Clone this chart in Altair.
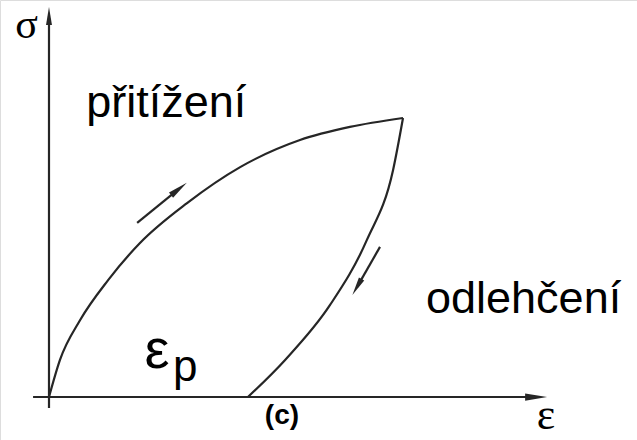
import altair as alt
import pandas as pd

# Loading branch (přitížení): strain / stress, normalised to the turning point
load_eps = [0.0, 0.031, 0.088, 0.167, 0.257, 0.390, 0.540, 0.709, 0.850, 1.0]
load_sig = [0.0, 0.133, 0.276, 0.419, 0.552, 0.695, 0.824, 0.921, 0.968, 1.0]

# Unloading branch (odlehčení), ending at the permanent strain ε_p
unload_eps = [1.0, 0.972, 0.898, 0.794, 0.667, 0.562]
unload_sig = [1.0, 0.814, 0.563, 0.330, 0.133, 0.0]

# Axis lines and direction arrows along the branches (start -> end)
seg_e1 = [-0.045, 0.0, 0.249, 0.935]
seg_s1 = [0.0, -0.039, 0.624, 0.538]
seg_e2 = [1.35, 0.0, 0.367, 0.870]
seg_s2 = [0.0, 1.35, 0.746, 0.394]

# Arrowheads: position, heading (deg, clockwise from up), size
head_e = [1.376, 0.0, 0.367, 0.870]
head_s = [0.0, 1.366, 0.746, 0.394]
head_ang = [90, 0, 52, 210]
head_size = [484, 324, 400, 340]

X_DOM = [-0.1384, 1.661]
Y_DOM = [-0.1541, 1.423]
INK = "#262626"

curve = pd.DataFrame({
    "eps": load_eps + unload_eps,
    "sig": load_sig + unload_sig,
    "branch": ["load"] * len(load_eps) + ["unload"] * len(unload_eps),
})
segs = pd.DataFrame({"e1": seg_e1, "s1": seg_s1, "e2": seg_e2, "s2": seg_s2})
heads = pd.DataFrame({"eps": head_e, "sig": head_s, "ang": head_ang, "sz": head_size})

xs = alt.Scale(domain=X_DOM, nice=False, zero=False)
ys = alt.Scale(domain=Y_DOM, nice=False, zero=False)

lines = alt.Chart(curve).mark_line(
    color=INK, strokeWidth=2.2, interpolate="monotone"
).encode(
    x=alt.X("eps:Q", scale=xs, axis=None),
    y=alt.Y("sig:Q", scale=ys, axis=None),
    detail="branch:N",
)

rules = alt.Chart(segs).mark_rule(color=INK, strokeWidth=2.2).encode(
    x=alt.X("e1:Q", scale=xs, axis=None),
    y=alt.Y("s1:Q", scale=ys, axis=None),
    x2="e2:Q",
    y2="s2:Q",
)

arrow_path = "M0,-1L0.33,1L-0.33,1Z"
tips = alt.Chart(heads).mark_point(
    shape=arrow_path, filled=True, color=INK, opacity=1, strokeWidth=0
).encode(
    x=alt.X("eps:Q", scale=xs, axis=None),
    y=alt.Y("sig:Q", scale=ys, axis=None),
    angle=alt.Angle("ang:Q", scale=None),
    size=alt.Size("sz:Q", scale=None),
)


def label(txt, e, s, size, font="Liberation Sans", weight="normal", align="left"):
    df = pd.DataFrame({"eps": [e], "sig": [s], "t": [txt]})
    return alt.Chart(df).mark_text(
        align=align, baseline="alphabetic", fontSize=size, font=font,
        fontWeight=weight, color="black",
    ).encode(
        x=alt.X("eps:Q", scale=xs, axis=None),
        y=alt.Y("sig:Q", scale=ys, axis=None),
        text="t:N",
    )


texts = [
    label("přitížení", 0.105, 1.004, 45),
    label("odlehčení", 1.065, 0.301, 45),
    label("ε", 0.270, 0.104, 56),
    label("p", 0.350, 0.057, 44),
    label("σ", -0.095, 1.287, 42, font="Liberation Serif"),
    label("ε", 1.378, -0.115, 44, font="Liberation Serif"),
    label("(c)", 0.658, -0.097, 28, weight="bold", align="center"),
]

chart = alt.layer(lines, rules, tips, *texts).properties(
    width=637, height=440, padding=0,
    autosize=alt.AutoSizeParams(type="none"),
).configure_view(stroke=None).configure(background="white")

chart.save("out.html", embed_options={"renderer": "svg", "actions": False})
